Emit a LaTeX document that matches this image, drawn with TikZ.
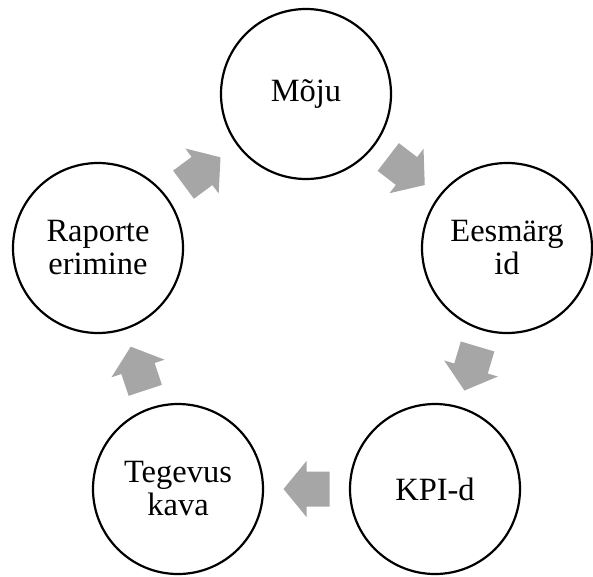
\documentclass[tikz,border=0pt]{standalone}
\usepackage{fontspec}
\setmainfont{Liberation Serif}
\usetikzlibrary{calc}
\definecolor{arrowgray}{RGB}{166,166,166}
\begin{document}
\begin{tikzpicture}[x=1pt,y=-1pt,
  cyc/.style={circle, draw=black, line width=2.2pt, minimum size=170pt, inner sep=0pt,
    align=center, font=\fontsize{32.5}{33}\selectfont},
  blockarrow/.pic={\fill[arrowgray] (-23,-17.5) -- (0,-17.5) -- (0,-28) -- (23,0)
    -- (0,28) -- (0,17.5) -- (-23,17.5) -- cycle;}]
\useasboundingbox (0,0) rectangle (593,576);
\node[cyc] (moju) at (306,94) {Mõju};
\node[cyc] (eesm) at (507,248) {Eesmärg\\id};
\node[cyc] (kpi) at (435,489) {KPI-d};
\node[cyc] (teg) at (178,489) {Tegevus\\kava};
\node[cyc] (rap) at (98,248) {Raporte\\erimine};
\path (rap) -- (moju) pic[midway, sloped, allow upside down] {blockarrow};
\path (moju) -- (eesm) pic[midway, sloped, allow upside down] {blockarrow};
\path (eesm) -- (kpi) pic[midway, sloped, allow upside down] {blockarrow};
\path (kpi) -- (teg) pic[midway, sloped, allow upside down] {blockarrow};
\path (teg) -- (rap) pic[midway, sloped, allow upside down] {blockarrow};
\end{tikzpicture}
\end{document}
